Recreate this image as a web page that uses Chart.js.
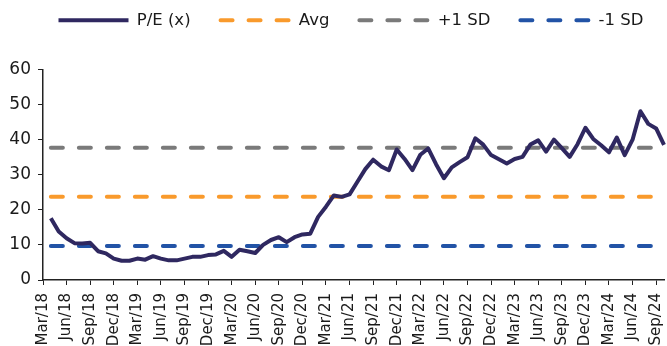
<!DOCTYPE html>
<html><head><meta charset="utf-8">
<script src="https://cdn.jsdelivr.net/npm/chart.js@4/dist/chart.umd.min.js"></script>
<style>html,body{margin:0;padding:0;background:#fff}</style>
</head><body>
<canvas id="c" width="667" height="346"></canvas>
<script>
const months = [
 'Mar/18','Apr/18','May/18','Jun/18','Jul/18','Aug/18','Sep/18','Oct/18','Nov/18','Dec/18',
 'Jan/19','Feb/19','Mar/19','Apr/19','May/19','Jun/19','Jul/19','Aug/19','Sep/19','Oct/19','Nov/19','Dec/19',
 'Jan/20','Feb/20','Mar/20','Apr/20','May/20','Jun/20','Jul/20','Aug/20','Sep/20','Oct/20','Nov/20','Dec/20',
 'Jan/21','Feb/21','Mar/21','Apr/21','May/21','Jun/21','Jul/21','Aug/21','Sep/21','Oct/21','Nov/21','Dec/21',
 'Jan/22','Feb/22','Mar/22','Apr/22','May/22','Jun/22','Jul/22','Aug/22','Sep/22','Oct/22','Nov/22','Dec/22',
 'Jan/23','Feb/23','Mar/23','Apr/23','May/23','Jun/23','Jul/23','Aug/23','Sep/23','Oct/23','Nov/23','Dec/23',
 'Jan/24','Feb/24','Mar/24','Apr/24','May/24','Jun/24','Jul/24','Aug/24','Sep/24','Oct/24'
];
const tickLabels = ['Mar/18','Jun/18','Sep/18','Dec/18','Mar/19','Jun/19','Sep/19','Dec/19','Mar/20','Jun/20','Sep/20','Dec/20',
 'Mar/21','Jun/21','Sep/21','Dec/21','Mar/22','Jun/22','Sep/22','Dec/22','Mar/23','Jun/23','Sep/23','Dec/23','Mar/24','Jun/24','Sep/24'];
const peValues = [
 null, 17.6, 13.8, 11.9, 10.5, 10.4, 10.6, 8.2, 7.6, 6.1,
 5.5, 5.5, 6.1, 5.8, 6.8, 6.1, 5.6, 5.6, 6.1, 6.6, 6.6, 7.1,
 7.3, 8.3, 6.6, 8.6, 8.2, 7.7, 10.0, 11.4, 12.2, 10.8, 12.2, 13.0,
 13.2, 18.0, 20.9, 24.1, 23.7, 24.4, 28.0, 31.6, 34.3, 32.4, 31.3, 37.2,
 34.5, 31.3, 35.7, 37.5, 33.0, 29.0, 32.1, 33.6, 35.0, 40.4, 38.6, 35.6,
 34.4, 33.2, 34.5, 35.1, 38.6, 39.8, 36.6, 40.0, 37.6, 35.1, 38.7, 43.4,
 40.2, 38.4, 36.4, 40.6, 35.6, 40.0, 48.1, 44.5, 43.2, 38.5
];
const avgValue = 23.7;
const plusOneSD = 37.7;
const minusOneSD = 9.7;
const yTicks = [0, 10, 20, 30, 40, 50, 60];

const flat = v => peValues.map(p => p === null ? null : v);
const FONT = 'DejaVu Sans';
const INK = '#1a1a1a';
const dash = { borderWidth: 4, borderDash: [12, 16], borderCapStyle: 'round', pointRadius: 0, tension: 0 };

const layoutTweaks = {
  id: 'layoutTweaks',
  beforeInit(chart) {
    const lg = chart.legend;
    const orig = lg.fit;
    lg.fit = function () { orig.call(this); this.height += 31; };
  },
  afterLayout(chart) {
    chart.legend.left += 19;
    chart.legend.right += 19;
  }
};

new Chart(document.getElementById('c'), {
  type: 'line',
  data: {
    labels: months,
    datasets: [
      { label: 'P/E (x)', data: peValues, borderColor: '#2f2860', backgroundColor: '#2f2860', borderWidth: 4,
        pointRadius: 0, tension: 0, borderJoinStyle: 'round', borderCapStyle: 'butt', order: 0 },
      Object.assign({ label: 'Avg', data: flat(avgValue), borderColor: '#f99a2c', backgroundColor: '#f99a2c', order: 1 }, dash),
      Object.assign({ label: '+1 SD', data: flat(plusOneSD), borderColor: '#7a7a7a', backgroundColor: '#7a7a7a', order: 1 }, dash),
      Object.assign({ label: '-1 SD', data: flat(minusOneSD), borderColor: '#2253a6', backgroundColor: '#2253a6', order: 1 }, dash)
    ]
  },
  plugins: [layoutTweaks],
  options: {
    responsive: false,
    animation: false,
    layout: { padding: { left: 0, right: 3, top: -18, bottom: 0 } },
    plugins: {
      tooltip: { enabled: false },
      legend: {
        position: 'top',
        labels: {
          usePointStyle: true, pointStyle: 'line', pointStyleWidth: 70,
          color: INK, font: { family: FONT, size: 16.5 }, padding: 30, boxHeight: 4,
          generateLabels(chart) {
            return chart.data.datasets.map((ds, i) => ({
              text: ds.label, datasetIndex: i, hidden: false,
              fillStyle: ds.borderColor, strokeStyle: ds.borderColor, fontColor: INK,
              lineWidth: 4, lineDash: ds.borderDash || [], lineCap: ds.borderDash ? 'round' : 'butt',
              pointStyle: 'line'
            }));
          }
        }
      }
    },
    scales: {
      x: {
        type: 'category', offset: false,
        afterFit: s => { s.paddingRight = 0; s.paddingLeft = 0; s.height = 66; },
        grid: { drawOnChartArea: false, tickLength: 5,
          tickColor: ctx => (tickLabels.includes(months[ctx.index]) ? '#222' : 'rgba(0,0,0,0)') },
        border: { color: '#222', width: 1.5 },
        ticks: { autoSkip: false, maxRotation: 90, minRotation: 90, color: INK, padding: 8,
          font: { family: FONT, size: 15 },
          callback: function(v, i) { const l = months[i]; return tickLabels.includes(l) ? l : ''; } }
      },
      y: {
        min: 0, max: 60,
        afterBuildTicks: s => { s.ticks = yTicks.map(v => ({ value: v })); },
        afterFit: s => { s.width = 43; },
        grid: { drawOnChartArea: false, tickLength: 5, tickColor: '#222' },
        border: { color: '#222', width: 1.5 },
        ticks: { color: INK, padding: 7, font: { family: FONT, size: 17 } }
      }
    }
  }
});
</script>
</body></html>
